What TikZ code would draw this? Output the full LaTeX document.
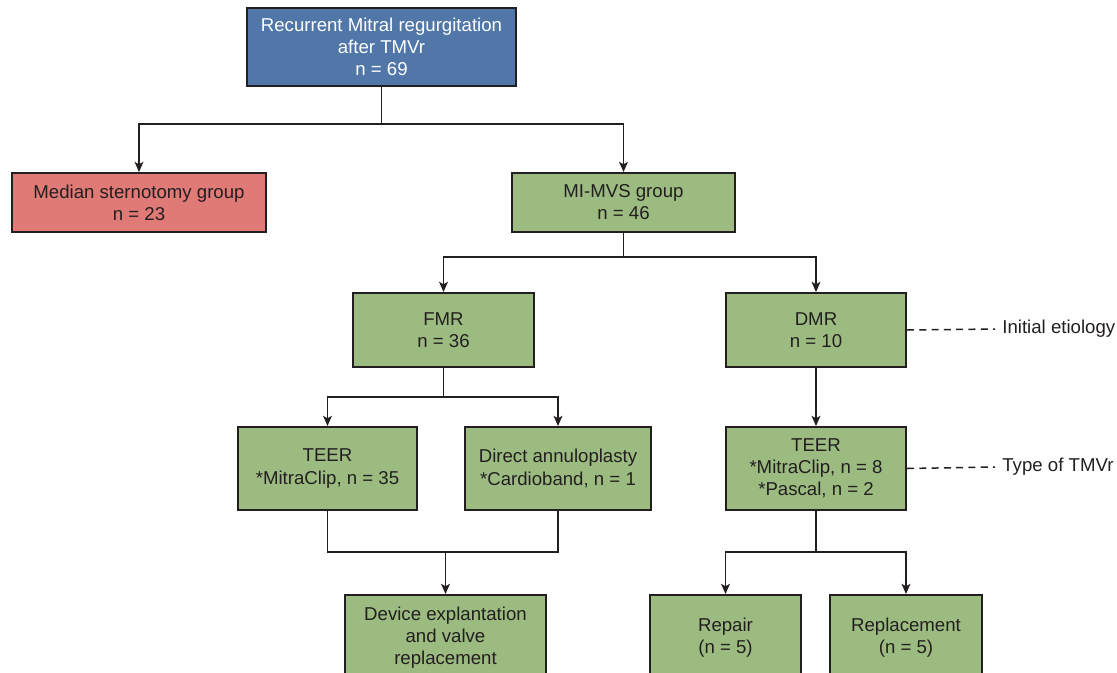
\documentclass[tikz,border=0pt]{standalone}
\usepackage{fontspec}
\setmainfont{Liberation Sans}
\usepackage{xcolor}
\usetikzlibrary{arrows.meta,positioning}

\definecolor{boxblue}{HTML}{5077A8}
\definecolor{boxred}{HTML}{E07A76}
\definecolor{boxgreen}{HTML}{9CBB80}
\definecolor{ink}{HTML}{231F20}
\newlength{\pxu}
\setlength{\pxu}{0.02cm}

\begin{document}
\begin{tikzpicture}[x=0.02cm,y=-0.02cm]
    \tikzstyle{box}=[rectangle, draw=ink, line width=1.1pt, align=center, text=ink,
      font=\fontsize{10.6}{12.6}\selectfont, inner sep=2pt]
    \tikzstyle{green}=[box, fill=boxgreen]
    \tikzstyle{line}=[draw=ink, line width=0.85pt]
    \tikzstyle{connect}=[line, -{Stealth[length=5.8pt,width=5pt,inset=1.4pt]}]
    \tikzstyle{note}=[text=ink, font=\fontsize{10.6}{12.6}\selectfont, inner sep=4pt, anchor=west]
    \clip (0,0) rectangle (1117,673);
    \fill[white] (0,0) rectangle (1117,673);
    % boxes
    \node[box,fill=boxblue,text=white,minimum width=269\pxu,minimum height=78\pxu] (recur) at (381.5,47) {Recurrent Mitral regurgitation\\after TMVr\\n = 69};
    \node[box,fill=boxred,minimum width=254\pxu,minimum height=59\pxu] (sterno) at (139,202.5) {Median sternotomy group\\n = 23};
    \node[green,minimum width=223\pxu,minimum height=59\pxu] (mimvs) at (623.5,202.5) {MI-MVS group\\n = 46};
    \node[green,minimum width=181\pxu,minimum height=74\pxu] (fmr) at (443.5,330) {FMR\\n = 36};
    \node[green,minimum width=180\pxu,minimum height=74\pxu] (dmr) at (816,330) {DMR\\n = 10};
    \node[green,minimum width=179\pxu,minimum height=83\pxu] (teerf) at (327.5,468.5) {TEER\\*MitraClip, n = 35};
    \node[green,minimum width=186\pxu,minimum height=83\pxu] (annulo) at (558,468.5) {Direct annuloplasty\\*Cardioband, n = 1};
    \node[green,minimum width=180\pxu,minimum height=83\pxu] (teerd) at (816,468.5) {TEER\\*MitraClip, n = 8\\*Pascal, n = 2};
    \node[green,minimum width=201\pxu,minimum height=86\pxu] (explant) at (445.5,638) {Device explantation\\and valve\\replacement};
    \node[green,minimum width=151\pxu,minimum height=86\pxu] (repair) at (725.5,638) {Repair\\(n = 5)};
    \node[green,minimum width=152\pxu,minimum height=86\pxu] (replace) at (906,638) {Replacement\\(n = 5)};
    % side notes
    \node[note] (etio) at (995,329) {Initial etiology};
    \node[note] (type) at (995,467) {Type of TMVr};
    % split points
    \coordinate (s1) at (381.5,124);
    \coordinate (s2) at (623.5,257);
    \coordinate (s3) at (443.5,397);
    \coordinate (s4) at (445.5,552);
    \coordinate (s5) at (816,552);
    % connectors
    \path[line] (recur.south) -- (s1);
    \path[connect] (s1) -| (sterno.north);
    \path[connect] (s1) -| (mimvs.north);
    \path[line] (mimvs.south) -- (s2);
    \path[connect] (s2) -| (fmr.north);
    \path[connect] (s2) -| (dmr.north);
    \path[line] (fmr.south) -- (s3);
    \path[connect] (s3) -| (teerf.north);
    \path[connect] (s3) -| (annulo.north);
    \path[connect] (dmr.south) -- (teerd.north);
    \path[line] (teerf.south) |- (s4) -| (annulo.south);
    \path[connect] (s4) -- (explant.north);
    \path[line] (teerd.south) -- (s5);
    \path[connect] (s5) -| (repair.north);
    \path[connect] (s5) -| (replace.north);
    \path[line,dashed,dash pattern=on 4pt off 3pt] (dmr.east) -- (etio.west);
    \path[line,dashed,dash pattern=on 4pt off 3pt] (teerd.east) -- (type.west);
\end{tikzpicture}
\end{document}
